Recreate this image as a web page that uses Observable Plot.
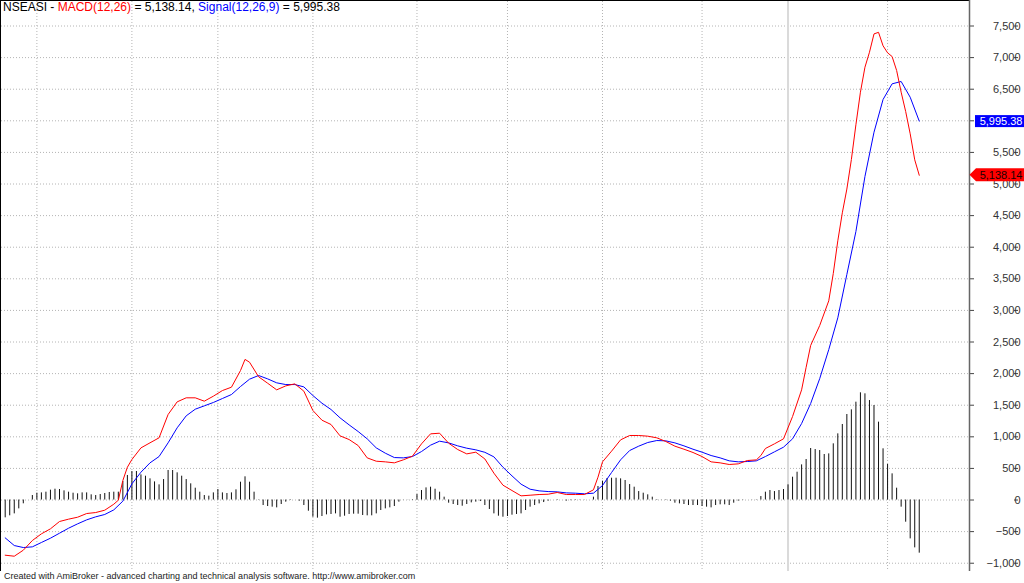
<!DOCTYPE html>
<html>
<head>
<meta charset="utf-8">
<script src="https://cdn.jsdelivr.net/npm/d3@7"></script>
<script src="https://cdn.jsdelivr.net/npm/@observablehq/plot@0.6"></script>
<style>
  html, body { margin: 0; padding: 0; background: #fff; }
  #wrap { position: relative; width: 1024px; height: 583px; overflow: hidden; font-family: Arial, "Liberation Sans", sans-serif; }
  #chart { position: absolute; left: 0; top: 0; }
  #title { position: absolute; left: 3px; top: 0px; font-size: 12px; white-space: pre; color: #000; }
  #caption { position: absolute; left: 4px; top: 571px; font-size: 9px; white-space: pre; color: #222; }
</style>
</head>
<body>
<div id="wrap">
  <div id="chart"></div>
  <div id="title"></div>
  <div id="caption"></div>
</div>
<script>
// ---- data ----
const symbol = "NSEASI";
const macdLabel = "MACD(12,26)";
const signalLabel = "Signal(12,26,9)";
const captionText = "Created with AmiBroker - advanced charting and technical analysis software. http://www.amibroker.com";

// histogram (MACD - Signal), one value per bar, bars 0..202
const histValues = [
  -282, -250, -219, -140, -60, 0, 71, 108, 113, 124,
  156, 171, 166, 145, 124, 108, 98, 113, 113, 82,
  71, 87, 103, 119, 124, 124, 293, 388, 451, 451,
  398, 377, 335, 287, 240, 324, 467, 467, 430, 377,
  324, 256, 187, 124, 71, 61, 113, 166, 113, 103,
  113, 161, 282, 367, 282, 124,
  -5, -87, -103, -113, -124, -71, -34, -8, 0, -18,
  -87, -177, -272, -287, -261, -235, -229, -219, -272, -256,
  -229, -224, -224, -245, -250, -250, -219, -166, -140, -124,
  -103, -34, -3, 3, 8, 87, 150, 192, 203, 171,
  124, 45, -50, -71, -87, -98, -71, -45, -34, -24,
  -87, -150,
  -219, -256, -272, -261, -240, -229, -219, -166, -113, -87,
  -61, -40, -18, 0, 8, 0, -18, -10, -8, -5,
  -3, 0, 45, 214, 298, 340, 345, 345, 335, 309,
  245, 203, 134, 108, 82, 45, 8, 3, -8, -18,
  -50, -61, -71, -87, -87, -87, -103, -113, -124, -87,
  -76, -76, -87,
  -50, -18, -5, 0, 3, 5, 55, 124, 150, 134,
  150, 166, 240, 361, 440, 556, 641, 815, 799, 783,
  720, 730, 889, 1047, 1195, 1353, 1427, 1548, 1696, 1680,
  1574, 1495, 1232, 810, 562, 414, 187, -113, -351, -615,
  -757, -841
];

// MACD line (red): bar index and value
const macdIdx = [0,2,4,6,8,10,12,14,16,18,20,22,24,25,26,27,28,30,32,34,36,38,40,42,44,46,48,50,52,53,54,
  56,58,60,62,64,66,68,70,72,74,76,78,80,82,84,86,88,90,92,94,96,98,100,102,104,106,
  108,110,112,114,116,118,120,122,124,126,128,130,131,132,134,136,138,140,142,144,146,148,150,152,154,156,158,160,
  162,164,166,167,168,170,172,174,176,177,178,180,182,183,184,185,186,187,188,189,190,191,192,193,194,195,196,197,198,199,200,201,202];
const macdVal = [-873,-889,-794,-641,-535,-456,-340,-303,-272,-214,-198,-161,-66,-3,309,519,641,825,905,984,1353,1553,1617,1617,1564,1643,1732,1785,2049,2225,2180,
  1950,1848,1743,1806,1838,1722,1416,1263,1195,1015,957,862,667,614,604,588,636,694,889,1047,1057,899,799,730,757,650,
  425,235,150,66,76,87,92,119,87,87,87,161,361,604,773,952,1021,1021,1010,984,926,852,804,752,688,604,588,562,
  572,625,635,704,815,889,968,1321,1743,2100,2445,2761,3152,3584,4101,4544,4920,5388,5937,6453,6848,7085,7375,7400,7187,7076,7017,6796,6453,6147,5794,5383,5138.14];

// Signal line (blue): bar index and value
const signalIdx = [0,2,4,6,8,10,12,14,16,18,20,22,24,26,28,30,32,34,36,38,40,42,44,46,48,50,52,54,
  56,58,60,62,64,66,68,70,72,74,76,78,80,82,84,86,88,90,92,94,96,98,100,102,104,106,
  108,110,112,114,116,118,120,122,124,126,128,130,132,134,136,138,140,142,144,146,148,150,152,154,156,158,160,
  162,164,166,168,170,172,174,176,178,180,182,184,186,188,190,192,194,196,198,200,202];
const signalVal = [-599,-720,-752,-741,-672,-604,-525,-446,-377,-314,-266,-229,-156,-18,256,440,588,688,905,1142,1332,1437,1490,1543,1606,1669,1796,1912,
  1970,1917,1854,1827,1827,1790,1653,1532,1432,1300,1189,1084,968,825,741,672,667,688,767,868,931,904,857,820,794,755,
  683,519,382,251,171,145,134,129,113,108,98,108,229,435,636,783,852,910,941,936,904,857,804,757,704,667,620,
  604,609,620,688,762,836,968,1210,1527,1920,2380,2883,3568,4248,5119,5820,6337,6585,6622,6373,5995.38];

// axis ticks (6,000 is hidden under the signal tag in the reference) and date grid
const yTicks = [-1000,-500,0,500,1000,1500,2000,2500,3000,3500,4000,4500,5000,5500,6000,6500,7000,7500];
const yTickLabels = [-1000,-500,0,500,1000,1500,2000,2500,3000,3500,4000,4500,5000,5500,6500,7000,7500];
const monthGridIdx = [7, 28, 47, 68, 91, 111, 132, 154, 195];
const yearGridIdx = [173];

// ---- build tables ----
const hist = histValues.map((v, i) => ({i, v}));
const macd = macdIdx.map((i, k) => ({i, v: macdVal[k]}));
const signal = signalIdx.map((i, k) => ({i, v: signalVal[k]}));
const lastMacd = macdVal[macdVal.length - 1];
const lastSignal = signalVal[signalVal.length - 1];
const fmt2 = d3.format(",.2f");

document.getElementById("title").innerHTML =
  `${symbol} - <span style="color:#ff0000">${macdLabel}</span> = ${fmt2(lastMacd)}, <span style="color:#0000ff">${signalLabel}</span> = ${fmt2(lastSignal)}`;
document.getElementById("caption").textContent = captionText;

const chart = Plot.plot({
  width: 1024,
  height: 572,
  marginLeft: 1,
  marginRight: 55,
  marginTop: 1,
  marginBottom: 1,
  style: {fontFamily: "Arial, 'Liberation Sans', sans-serif", fontSize: "11px", background: "transparent", color: "#222"},
  x: {type: "linear", domain: [-0.8177, 213.105], axis: null},
  y: {type: "linear", domain: [-1131, 7887.7], axis: null, label: null},
  marks: [
    Plot.gridY(yTicks, {stroke: "#b4b4b4", strokeOpacity: 1, strokeDasharray: "1,2"}),
    Plot.gridX(monthGridIdx, {stroke: "#b4b4b4", strokeOpacity: 1, strokeDasharray: "1,2"}),
    Plot.ruleX(yearGridIdx, {stroke: "#dadada", strokeWidth: 2}),
    Plot.ruleX(hist, {x: "i", y1: 0, y2: "v", stroke: "#111", strokeWidth: 1}),
    Plot.line(signal, {x: "i", y: "v", stroke: "#0000ff", strokeWidth: 1}),
    Plot.line(macd, {x: "i", y: "v", stroke: "#ff0000", strokeWidth: 1}),
    Plot.axisY(yTicks, {anchor: "right", tickSize: 4, text: null, label: null, stroke: "#444"}),
    Plot.axisY(yTickLabels, {anchor: "right", tickSize: 4, tickPadding: 3, textAnchor: "end", dx: 44, label: null,
      tickFormat: d3.format(","), stroke: "#444", fill: "#333", fontSize: 11})
  ]
});
document.getElementById("chart").appendChild(chart);

// frame edges (left, top, right axis line) and value tags, placed through the plot's own scales
const ys = chart.scale("y");
const [x0, xr] = chart.scale("x").range;
const [yb, yt] = ys.range;
const svg = d3.select(chart);
const right = 1024;

svg.append("line").attr("x1", x0 - 0.5).attr("x2", x0 - 0.5).attr("y1", yt - 1).attr("y2", yb).attr("stroke", "#000");
svg.append("line").attr("x1", x0 - 1).attr("x2", xr + 0.5).attr("y1", yt - 0.5).attr("y2", yt - 0.5).attr("stroke", "#000");
svg.append("line").attr("x1", xr + 0.5).attr("x2", xr + 0.5).attr("y1", yt - 1).attr("y2", yb).attr("stroke", "#666").attr("stroke-width", 1.5);

const cS = ys.apply(lastSignal);
svg.append("rect")
  .attr("x", xr + 6).attr("y", cS - 5.5).attr("width", right - xr - 6).attr("height", 12)
  .attr("fill", "#0000ff");
svg.append("text")
  .attr("x", right - 1.5).attr("y", cS + 0.5)
  .attr("text-anchor", "end").attr("dominant-baseline", "central")
  .attr("fill", "#ffffff").attr("font-size", 11)
  .text(fmt2(lastSignal));

const cM = ys.apply(lastMacd);
svg.append("polygon")
  .attr("points", [[xr + 0.5, cM], [xr + 7, cM - 6.5], [right, cM - 6.5], [right, cM + 6.5], [xr + 7, cM + 6.5]].map(p => p.join(",")).join(" "))
  .attr("fill", "#ff0000");
svg.append("text")
  .attr("x", right - 1.5).attr("y", cM + 0.5)
  .attr("text-anchor", "end").attr("dominant-baseline", "central")
  .attr("fill", "#1a0000").attr("font-size", 11)
  .text(fmt2(lastMacd));
</script>
</body>
</html>
